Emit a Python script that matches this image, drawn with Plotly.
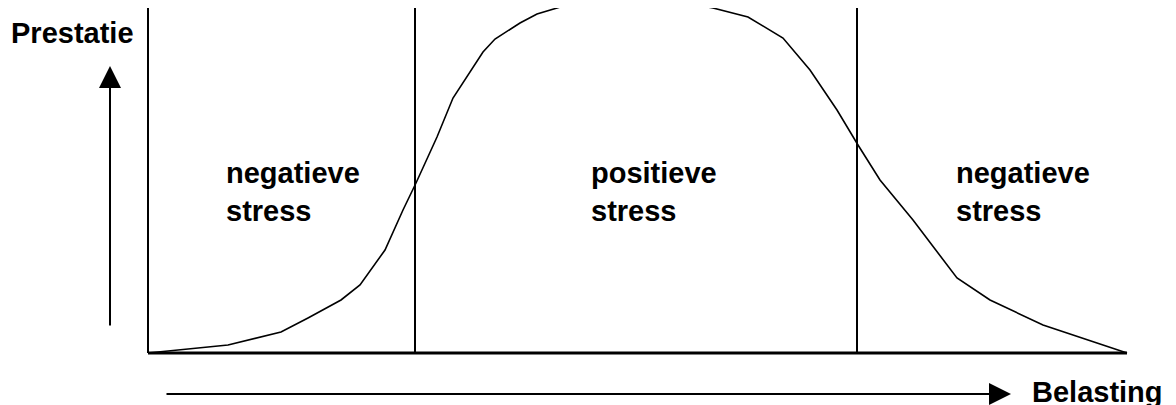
import plotly.graph_objects as go

# curve: load (belasting) vs performance (prestatie)
belasting = [0, 80, 133, 160, 193, 212, 237, 255, 268, 289, 305, 317, 335, 347, 372, 389,
             419, 452, 487, 522, 565, 600, 635, 662, 689, 710, 732, 765, 809, 842, 895, 979]
prestatie = [0, 8, 21, 35, 53, 68, 103, 143, 170, 216, 255, 273, 301, 314, 330, 339,
             348, 353, 358, 353, 345, 336, 315, 283, 243, 208, 173, 133, 75, 53, 28, 0]

grens_links = 267
grens_rechts = 709
as_hoogte = 345
as_lengte = 979

zone_labels = ["negatieve<br>stress", "positieve<br>stress", "negatieve<br>stress"]
zone_x = [76, 441, 806]
zone_y = 161

font = dict(family="Liberation Sans, Arial, sans-serif", size=29, color="black")
zwart = "black"

fig = go.Figure()

# y axis and baseline
fig.add_trace(go.Scatter(x=[0, 0], y=[0, as_hoogte], mode="lines",
                         line=dict(color=zwart, width=2), hoverinfo="skip"))
fig.add_trace(go.Scatter(x=[0, as_lengte], y=[0, 0], mode="lines",
                         line=dict(color=zwart, width=3), hoverinfo="skip"))

# zone borders
for gx in [grens_links, grens_rechts]:
    fig.add_trace(go.Scatter(x=[gx, gx], y=[0, as_hoogte], mode="lines",
                             line=dict(color=zwart, width=2), hoverinfo="skip"))

# the curve
fig.add_trace(go.Scatter(x=belasting, y=prestatie, mode="lines",
                         line=dict(color=zwart, width=1.6), hoverinfo="skip"))

for txt, zx in zip(zone_labels, zone_x):
    fig.add_annotation(x=zx, y=zone_y, text="<b>" + txt + "</b>", showarrow=False,
                       xanchor="left", yanchor="middle", align="left", font=font)

# axis titles
fig.add_annotation(x=-139, y=320, text="<b>Prestatie</b>", showarrow=False,
                   xanchor="left", yanchor="middle", font=font)
fig.add_annotation(x=882, y=-39, text="<b>Belasting</b>", showarrow=False,
                   xanchor="left", yanchor="middle", font=font)

# arrows
fig.add_annotation(x=-38, y=287, ax=-38, ay=26, xref="x", yref="y", axref="x", ayref="y",
                   text="", showarrow=True, arrowhead=2, arrowsize=2.2, arrowwidth=2,
                   arrowcolor=zwart, standoff=0, startstandoff=0)
fig.add_annotation(x=863, y=-41, ax=17, ay=-41, xref="x", yref="y", axref="x", ayref="y",
                   text="", showarrow=True, arrowhead=2, arrowsize=2.2, arrowwidth=2,
                   arrowcolor=zwart, standoff=0, startstandoff=0)

# page body adds an 8px offset, so ranges are shifted to land on the same pixels
fig.update_layout(
    width=1176, height=405,
    margin=dict(l=0, r=0, t=0, b=0),
    paper_bgcolor="white", plot_bgcolor="white",
    showlegend=False,
    xaxis=dict(range=[-140, 1036], visible=False, fixedrange=True),
    yaxis=dict(range=[-60, 345], visible=False, fixedrange=True),
)

fig.write_html("out.html")
